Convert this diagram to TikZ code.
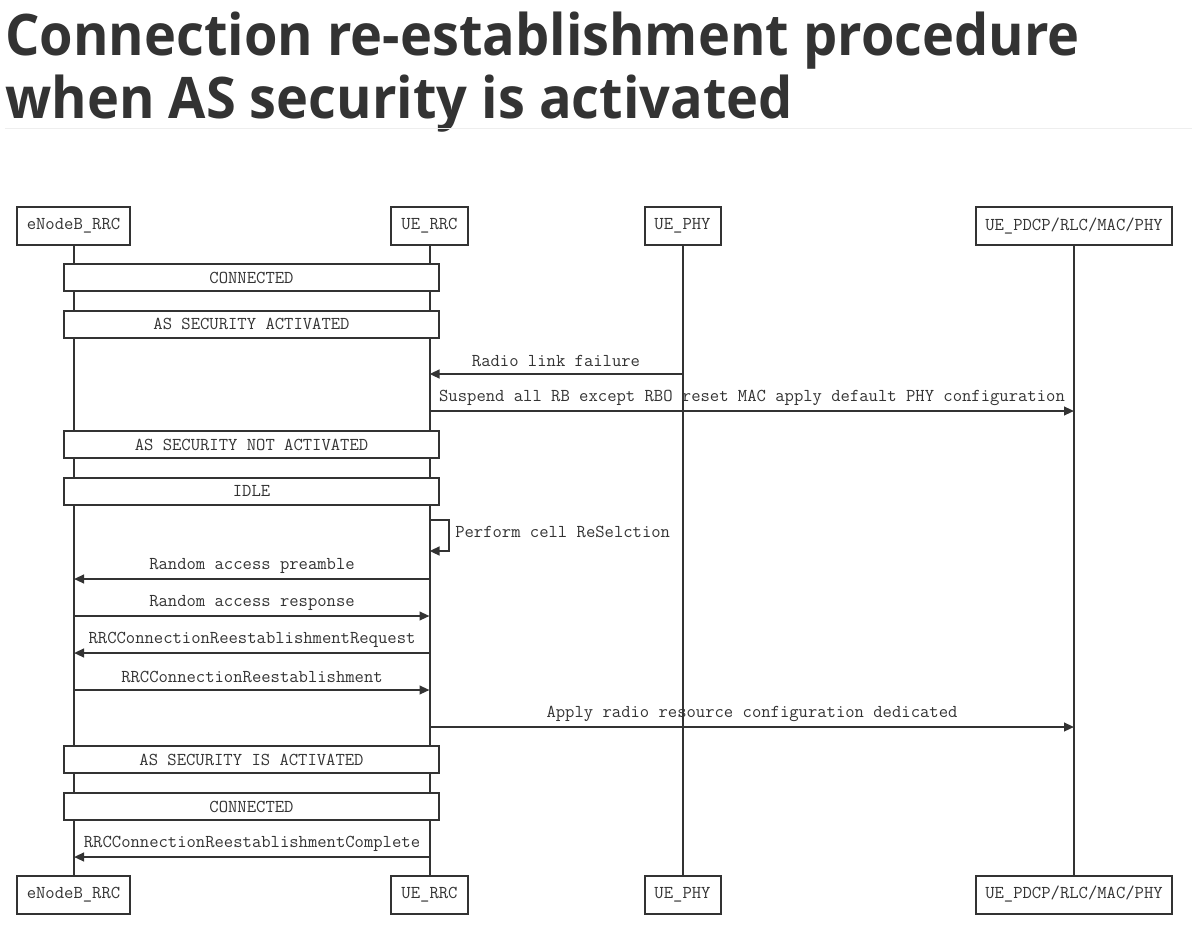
\documentclass[tikz,border=0pt]{standalone}
\usepackage{fontspec}
\newfontfamily\titlefont{Open Sans}[FakeStretch=0.944]
\usetikzlibrary{arrows.meta}
\definecolor{ink}{HTML}{333333}
\definecolor{rulegray}{HTML}{EEEEEE}
\newcommand{\monotext}{\ttfamily\fontsize{13.6}{15}\selectfont}
\tikzset{
  actor/.style={draw=ink, line width=1.5pt, fill=white, text=ink, font=\monotext, minimum height=28.5pt, inner sep=0pt},
  statebox/.style={draw=ink, line width=1.5pt, fill=white, text=ink, font=\monotext, minimum width=281.25pt, minimum height=20.25pt, inner sep=0pt},
  lifeline/.style={draw=ink, line width=1.5pt},
  msg/.style={draw=ink, line width=1.5pt, -{Triangle[length=7.5pt,width=6.5pt]}},
  msglabel/.style={text=ink, font=\monotext, inner sep=0pt},
}
\begin{document}
\begin{tikzpicture}[x=0.75pt,y=-0.75pt]
\useasboundingbox (0,0) rectangle (1192,928);
\fill[white] (0,0) rectangle (1192,928);
% title
\node[anchor=base west, inner sep=0pt, text=ink, font=\titlefont\bfseries\fontsize{43}{47.25}\selectfont] (t1) at (5,55) {Connection re-establishment procedure};
\node[anchor=base west, inner sep=0pt, text=ink, font=\titlefont\bfseries\fontsize{43}{47.25}\selectfont] (t2) at (5,118) {when AS security is activated};
\draw[rulegray, line width=0.9pt] (5,128.5) -- (1192,128.5);
% actors top
\node[actor, minimum width=84.75pt] (enbT) at (73.5,226) {eNodeB\_RRC};
\node[actor, minimum width=57.75pt] (ueT) at (429.5,226) {UE\_RRC};
\node[actor, minimum width=57pt] (phyT) at (682.5,226) {UE\_PHY};
\node[actor, minimum width=147pt] (pdcpT) at (1074,226) {UE\_PDCP/RLC/MAC/PHY};
% actors bottom
\node[actor, minimum width=84.75pt] (enbB) at (73.5,894.5) {eNodeB\_RRC};
\node[actor, minimum width=57.75pt] (ueB) at (429.5,894.5) {UE\_RRC};
\node[actor, minimum width=57pt] (phyB) at (682.5,894.5) {UE\_PHY};
\node[actor, minimum width=147pt] (pdcpB) at (1074,894.5) {UE\_PDCP/RLC/MAC/PHY};
% lifelines
\draw[lifeline] (enbT.south) -- (enbB.north);
\draw[lifeline] (ueT.south) -- (ueB.north);
\draw[lifeline] (phyT.south) -- (phyB.north);
\draw[lifeline] (pdcpT.south) -- (pdcpB.north);
% state boxes
\node[statebox] (s1) at (251.5,277.5) {CONNECTED};
\node[statebox] (s2) at (251.5,324) {AS SECURITY ACTIVATED};
\node[statebox] (s3) at (251.5,444.5) {AS SECURITY NOT ACTIVATED};
\node[statebox] (s4) at (251.5,491) {IDLE};
\node[statebox] (s5) at (251.5,759.5) {AS SECURITY IS ACTIVATED};
\node[statebox] (s6) at (251.5,806.5) {CONNECTED};
% message coordinates
\coordinate (phy1) at (682.5,374);  \coordinate (ue1) at (429.5,374);
\coordinate (ue2) at (429.5,411);   \coordinate (pdcp2) at (1074,411);
\coordinate (ue3a) at (429.5,520);  \coordinate (lp3a) at (449,520);
\coordinate (lp3b) at (449,551);    \coordinate (ue3b) at (429.5,551);
\coordinate (ue4) at (429.5,579);   \coordinate (enb4) at (74,579);
\coordinate (enb5) at (74,616);     \coordinate (ue5) at (429.5,616);
\coordinate (ue6) at (429.5,653);   \coordinate (enb6) at (74,653);
\coordinate (enb7) at (74,690);     \coordinate (ue7) at (429.5,690);
\coordinate (ue8) at (429.5,727);   \coordinate (pdcp8) at (1074,727);
\coordinate (ue9) at (429.5,857);   \coordinate (enb9) at (74,857);
% messages
\draw[msg] (phy1) -- (ue1);
\node[msglabel] (l1) at (556,361) {Radio link failure};
\draw[msg] (ue2) -- (pdcp2);
\node[msglabel] (l2) at (752,398) {Suspend all RB except RBO reset MAC apply default PHY configuration};
\draw[msg] (ue3a) -- (lp3a) -- (lp3b) -- (ue3b);
\node[msglabel, anchor=west] (l3) at (455,532) {Perform cell ReSelction};
\draw[msg] (ue4) -- (enb4);
\node[msglabel] (l4) at (252,566) {Random access preamble};
\draw[msg] (enb5) -- (ue5);
\node[msglabel] (l5) at (252,603) {Random access response};
\draw[msg] (ue6) -- (enb6);
\node[msglabel] (l6) at (252,639.5) {RRCConnectionReestablishmentRequest};
\draw[msg] (enb7) -- (ue7);
\node[msglabel] (l7) at (252,676.5) {RRCConnectionReestablishment};
\draw[msg] (ue8) -- (pdcp8);
\node[msglabel] (l8) at (752,713.5) {Apply radio resource configuration dedicated};
\draw[msg] (ue9) -- (enb9);
\node[msglabel] (l9) at (252,844) {RRCConnectionReestablishmentComplete};
\end{tikzpicture}
\end{document}
